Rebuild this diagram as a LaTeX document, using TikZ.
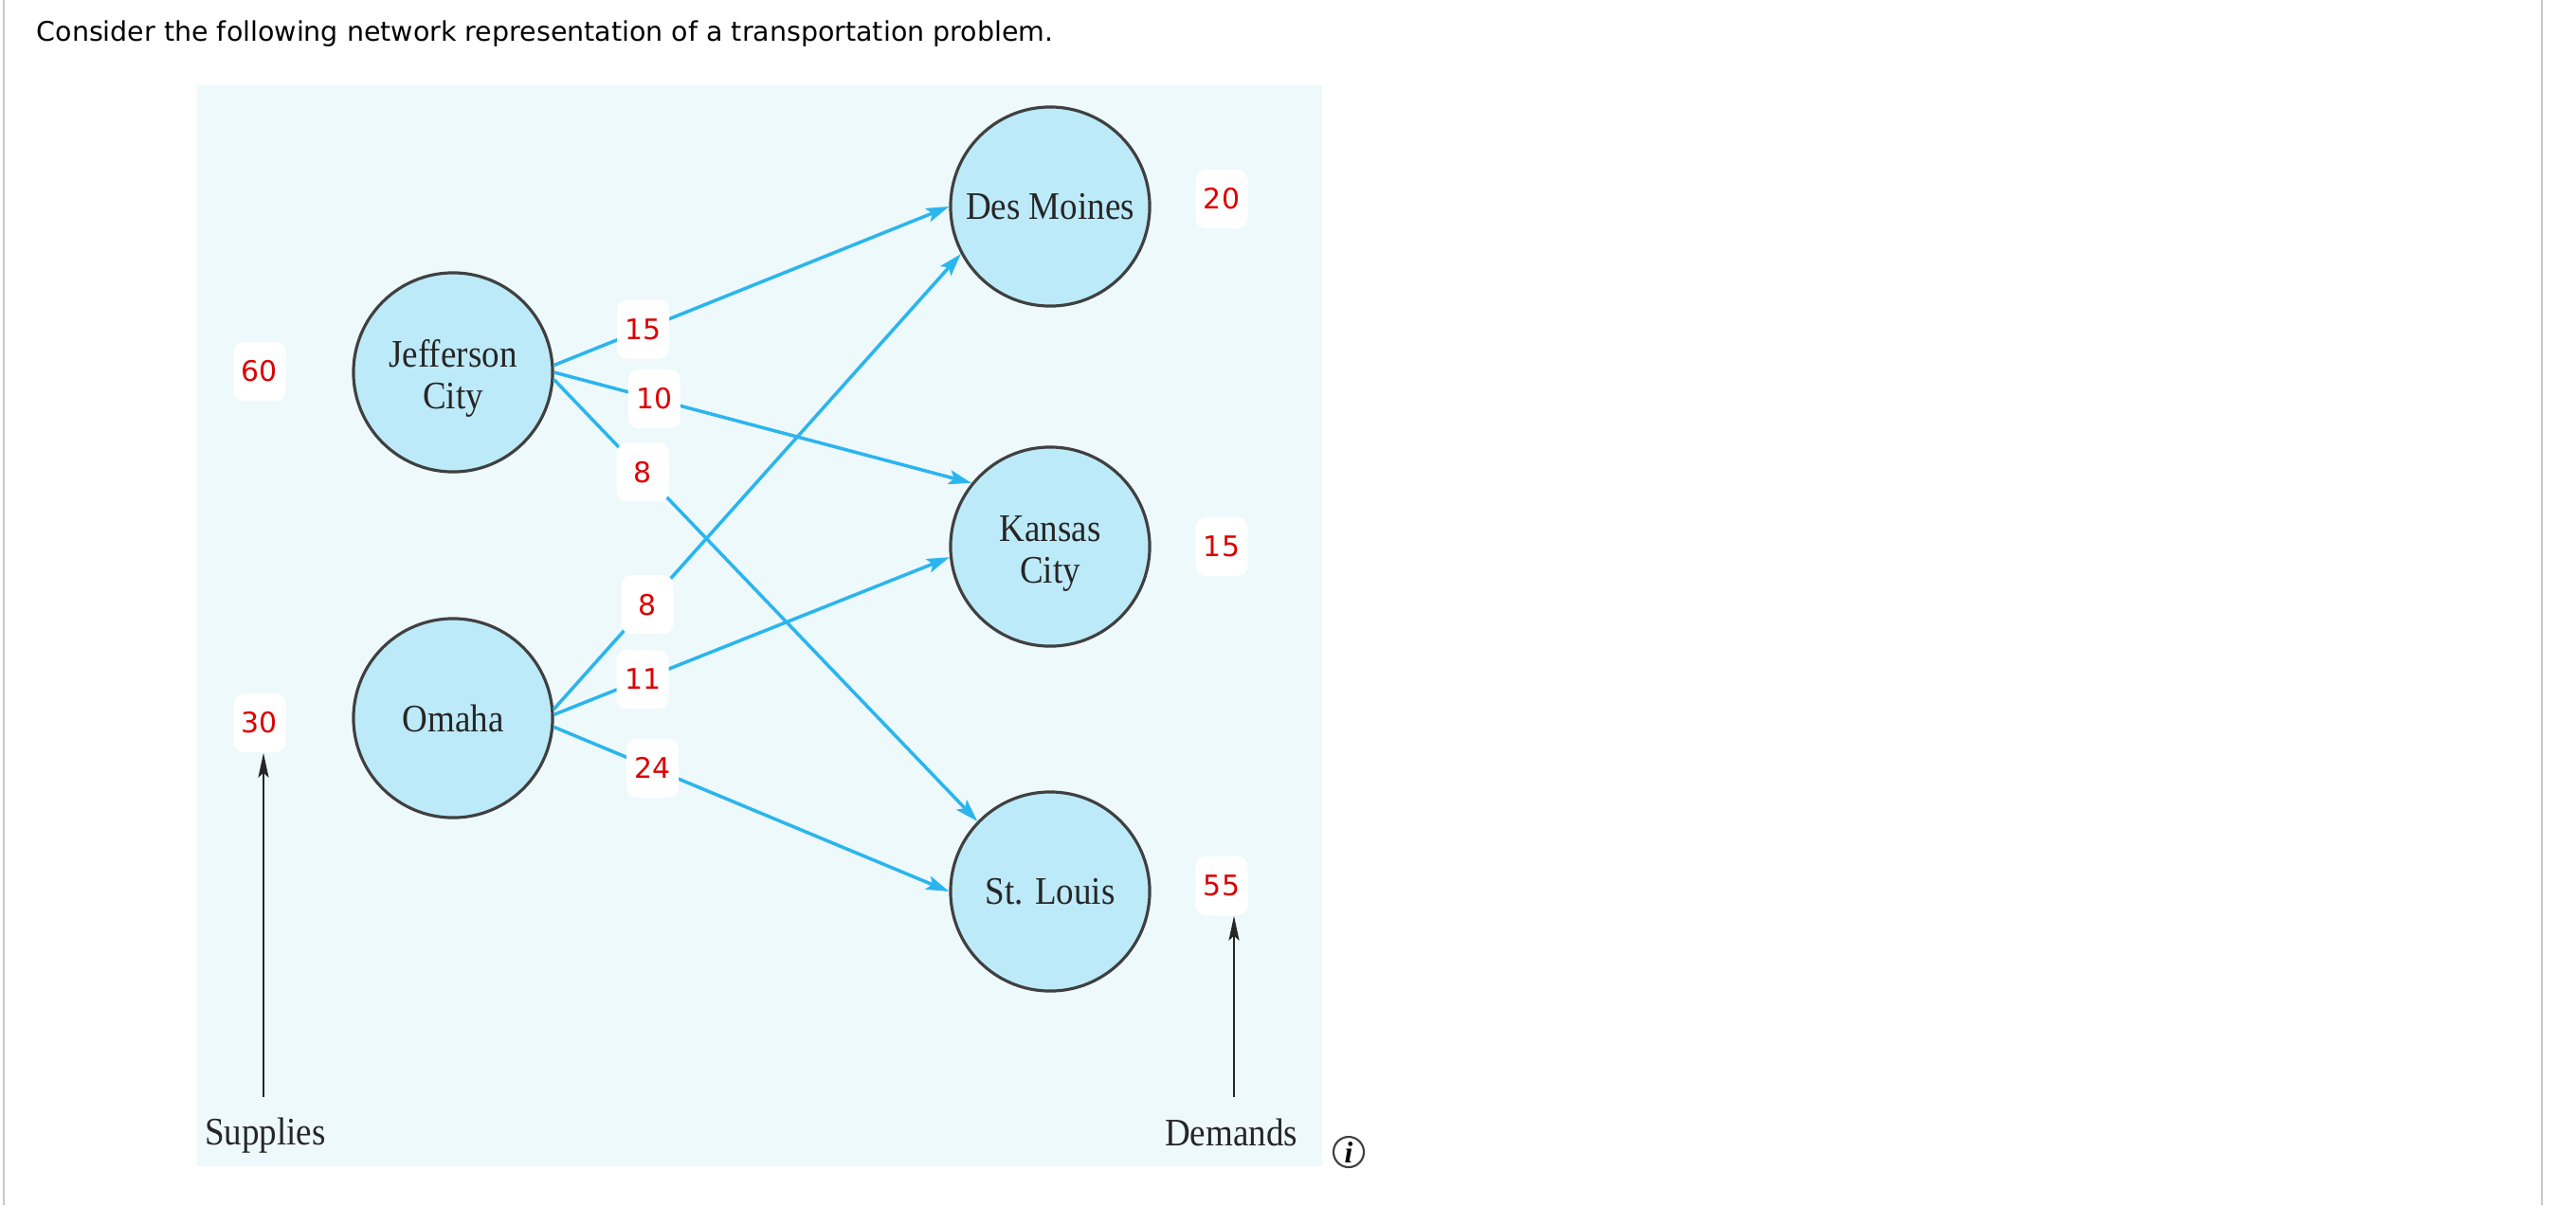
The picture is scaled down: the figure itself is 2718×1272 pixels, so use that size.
\documentclass[tikz,border=0pt]{standalone}
\usepackage{fontspec}
\usepackage{tikz}
\usetikzlibrary{arrows.meta}
\setmainfont{Liberation Serif}
\newfontfamily\promptfont{DejaVu Sans}
\newfontfamily\figfont[FakeStretch=0.9]{Liberation Serif}
\definecolor{panelbg}{HTML}{EEF9FC}
\definecolor{cityfill}{HTML}{BDEAF8}
\definecolor{flowblue}{HTML}{2BB5EE}
\definecolor{costred}{HTML}{DD0000}
\definecolor{rimgray}{HTML}{C8C8C8}
\newcommand{\twolines}[2]{\raisebox{-2.2pt}[\height][\depth]{\begin{tabular}{@{}c@{}}#1\\#2\end{tabular}}}

\begin{document}
\begin{tikzpicture}[
	  x=0.01cm, y=-0.01cm,
	  city/.style = {shape=circle, draw=black!75, line width=0.9pt, fill=cityfill, minimum size=2.1cm, inner sep=0pt, text=black!85, font=\figfont\fontsize{11.7}{12.4}\selectfont},
	  cost/.style = {shape=rectangle, rounded corners=3pt, fill=white, text=costred, minimum width=0.55cm, minimum height=0.62cm, inner sep=0pt, font=\promptfont\fontsize{8.5}{10}\selectfont},
	  flow/.style = {draw=flowblue, line width=1pt, -{Stealth[length=0.24cm, width=0.15cm, inset=0.05cm]}},
	  axis/.style = {draw=black!85, line width=0.6pt, -{Stealth[length=0.26cm, width=0.11cm, inset=0.05cm]}},
	  caption/.style = {text=black!85, font=\figfont\fontsize{11.7}{12.4}\selectfont}
	]

	  \useasboundingbox (0,0) rectangle (2718,1272);
	  \fill[white] (0,0) rectangle (2718,1272);
	  \draw[rimgray, line width=0.02cm] (3.7,0) -- (3.7,1272);
	  \draw[rimgray, line width=0.02cm] (2682,0) -- (2682,1272);
	  \fill[panelbg] (208,90) rectangle (1395,1231);

	  \node[anchor=base west, inner sep=0pt, font=\promptfont\fontsize{8.1}{10}\selectfont] (prompt) at (38,43) {Consider the following network representation of a transportation problem.};

	  \node[city] (jc) at (478,393) {\twolines{Jefferson}{City}};
	  \node[city] (om) at (478,758) {Omaha};
	  \node[city] (dm) at (1108,218) {Des Moines};
	  \node[city] (kc) at (1108,577) {\twolines{Kansas}{City}};
	  \node[city] (stl) at (1108,941) {St. Louis};

	  \draw[flow] (jc.4) -- node[cost, pos=0.226] (c15) {15} (dm.180);
	  \draw[flow] (jc.0) -- node[cost, pos=0.24] (c10) {10} (kc.141);
	  \draw[flow] (jc.-4) -- node[cost, pos=0.21] (c8j) {8} (stl.136);
	  \draw[flow] (om.5) -- node[cost, pos=0.23] (c8o) {8} (dm.208);
	  \draw[flow] (om.2) -- node[cost, pos=0.224] (c11) {11} (kc.186);
	  \draw[flow] (om.-5) -- node[cost, pos=0.25] (c24) {24} (stl.180);

	  \node[cost] (s60) at (274,392) {60};
	  \node[cost] (s30) at (274,763) {30};
	  \node[cost] (d20) at (1289,210) {20};
	  \node[cost] (d15) at (1289,577) {15};
	  \node[cost] (d55) at (1289,935) {55};

	  \coordinate (supfoot) at (278,1158);
	  \coordinate (demfoot) at (1302,1158);
	  \draw[axis] (supfoot) -- (supfoot |- s30.south);
	  \draw[axis] (demfoot) -- (demfoot |- d55.south);

	  \node[caption, anchor=base] (supplies) at (280,1208) {Supplies};
	  \node[caption, anchor=base] (demands) at (1299,1209) {Demands};
	  \node[circle, draw=black!75, line width=0.6pt, minimum size=0.32cm, inner sep=0pt, font=\bfseries\itshape\fontsize{9}{9}\selectfont] (info) at (1423,1216) {i};
	\end{tikzpicture}
\end{document}
